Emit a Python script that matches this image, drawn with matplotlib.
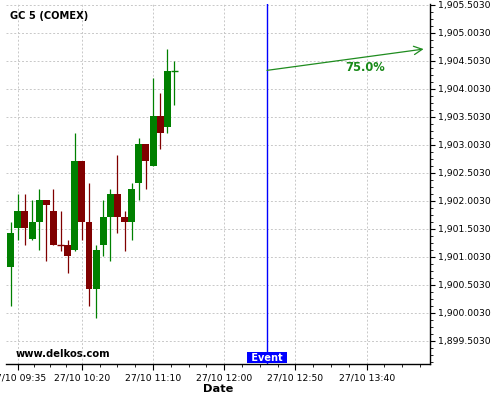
import matplotlib
matplotlib.use("Agg")
import matplotlib.pyplot as plt
from matplotlib.ticker import FixedLocator, MultipleLocator, FuncFormatter
import matplotlib.transforms as mtrans

# ---------------- data ----------------
times = ["09:30", "09:35", "09:40", "09:45", "09:50", "09:55", "10:00", "10:05",
         "10:10", "10:15", "10:20", "10:25", "10:30", "10:35", "10:40", "10:45",
         "10:50", "10:55", "11:00", "11:05", "11:10", "11:15", "11:20", "11:25"]
opens = [1900.82, 1901.52, 1901.82, 1901.32, 1901.62, 1902.02, 1901.82, 1901.23,
         1901.21, 1901.13, 1902.71, 1901.63, 1900.43, 1901.22, 1901.71, 1902.12,
         1901.71, 1901.63, 1902.32, 1903.02, 1902.63, 1903.52, 1903.32, 1904.32]
highs = [1901.62, 1902.12, 1902.12, 1902.01, 1902.21, 1902.02, 1902.21, 1901.81,
         1901.31, 1903.21, 1902.71, 1902.32, 1901.21, 1902.01, 1902.21, 1902.82,
         1901.81, 1902.32, 1903.12, 1903.02, 1904.20, 1903.92, 1904.72, 1904.50]
lows = [1900.12, 1901.31, 1901.21, 1901.31, 1901.12, 1900.92, 1901.21, 1901.11,
        1900.71, 1901.11, 1901.31, 1900.12, 1899.90, 1901.01, 1900.92, 1901.42,
        1901.11, 1901.31, 1902.01, 1902.21, 1902.63, 1902.92, 1903.21, 1903.71]
closes = [1901.43, 1901.82, 1901.52, 1901.62, 1902.02, 1901.93, 1901.22, 1901.21,
          1901.02, 1902.71, 1901.63, 1900.43, 1901.12, 1901.71, 1902.12, 1901.71,
          1901.63, 1902.21, 1903.02, 1902.72, 1903.52, 1903.22, 1904.32, 1904.33]

x_tick_labels = ["27/10 09:35", "27/10 10:20", "27/10 11:10",
                 "27/10 12:00", "27/10 12:50", "27/10 13:40"]
y_ticks = [1899.503, 1900.003, 1900.503, 1901.003, 1901.503, 1902.003,
           1902.503, 1903.003, 1903.503, 1904.003, 1904.503, 1905.003, 1905.503]

title = "GC 5 (COMEX)"
event_time = "12:30"
event_label = "Event"
forecast_end_time = "14:20"
forecast_end_price = 1904.71
forecast_text = "75.0%"
forecast_text_time = "13:39"
forecast_text_price = 1904.38
watermark = "www.delkos.com"


def to_min(t):
    h, m = t.split(":")
    return int(h) * 60 + int(m)


xs = [to_min(t) for t in times]

# ---------------- figure ----------------
fig = plt.figure(figsize=(5, 4), dpi=100)
ax = fig.add_axes([6 / 500, 36 / 400, (430.3 - 6) / 500, (364 - 4) / 400])

green = "#008000"
red = "#800000"
width = 4.9

for x, o, h, l, c in zip(xs, opens, highs, lows, closes):
    col = green if c >= o else red
    ax.vlines(x, l, h, color=col, linewidth=0.9, zorder=2)
    lo, hi = min(o, c), max(o, c)
    if hi - lo < 0.02:
        ax.hlines((o + c) / 2, x - width / 2, x + width / 2, color=col,
                  linewidth=1.0, zorder=3)
    else:
        ax.bar(x, hi - lo, width=width, bottom=lo, color=col,
               edgecolor="none", zorder=3)

x0 = xs[0]
ax.set_xlim(x0 - 3.3, x0 + 294.7)
ax.set_ylim(1899.087, 1905.515)

# ticks
xt = [to_min(s.split(" ")[1]) for s in x_tick_labels]
ax.set_xticks(xt)
ax.set_xticklabels(x_tick_labels)
minor = []
for a, b in zip(xt[:-1], xt[1:]):
    step = (b - a) / 4
    minor += [a + step * k for k in (1, 2, 3)]
m = xt[-1] + 12.5
while m < x0 + 294.7:
    minor.append(m)
    m += 12.5
ax.xaxis.set_minor_locator(FixedLocator(minor))

ax.yaxis.tick_right()
ax.set_yticks(y_ticks)
ax.yaxis.set_major_formatter(FuncFormatter(lambda v, p: f"{v:,.4f}"))
ax.yaxis.set_minor_locator(MultipleLocator(0.125))

ax.tick_params(axis="both", which="major", labelsize=6.7, length=3.5,
               width=0.8, pad=2, colors="black")
ax.tick_params(axis="both", which="minor", length=2, width=0.6)
ax.tick_params(axis="x", which="major", length=4, pad=3)

for s in ("top", "left"):
    ax.spines[s].set_visible(False)
for s in ("right", "bottom"):
    ax.spines[s].set_linewidth(1.0)
    ax.spines[s].set_color("black")

ax.grid(True, which="major", color="#c8c8c8", linestyle=(0, (2, 2)),
        linewidth=0.7)
ax.set_axisbelow(True)

ax.set_xlabel("Date", fontsize=8.2, fontweight="bold", labelpad=1)

# event line and label
ex = to_min(event_time)
ax.axvline(ex, color="blue", linewidth=1.0, zorder=4)
tr = mtrans.blended_transform_factory(ax.transData, ax.transAxes)
ax.text(ex, 0.004, " " + event_label + " ", transform=tr, ha="center",
        va="bottom", color="white", fontsize=7, fontweight="bold", zorder=6,
        bbox=dict(boxstyle="square,pad=0.08", fc="blue", ec="none"))

# forecast arrow
ax.annotate("", xy=(to_min(forecast_end_time), forecast_end_price),
            xytext=(ex, closes[-1]),
            arrowprops=dict(arrowstyle="->,head_length=0.6,head_width=0.3",
                            color="#1f8c1f", lw=0.9, shrinkA=0, shrinkB=0,
                            mutation_scale=10), zorder=5)
ax.text(to_min(forecast_text_time), forecast_text_price, forecast_text,
        color="#1a8a1a", fontsize=8.3, fontweight="bold", ha="center",
        va="center", zorder=5)

ax.text(0.022, 0.0286, watermark, transform=ax.transAxes, fontsize=7.2,
        fontweight="bold", color="black", va="center", ha="left", zorder=6)

fig.text(10 / 500, 1 - 15.7 / 400, title, fontsize=7.1, fontweight="bold",
         va="center", ha="left")

fig.savefig("out.png", dpi=100)
